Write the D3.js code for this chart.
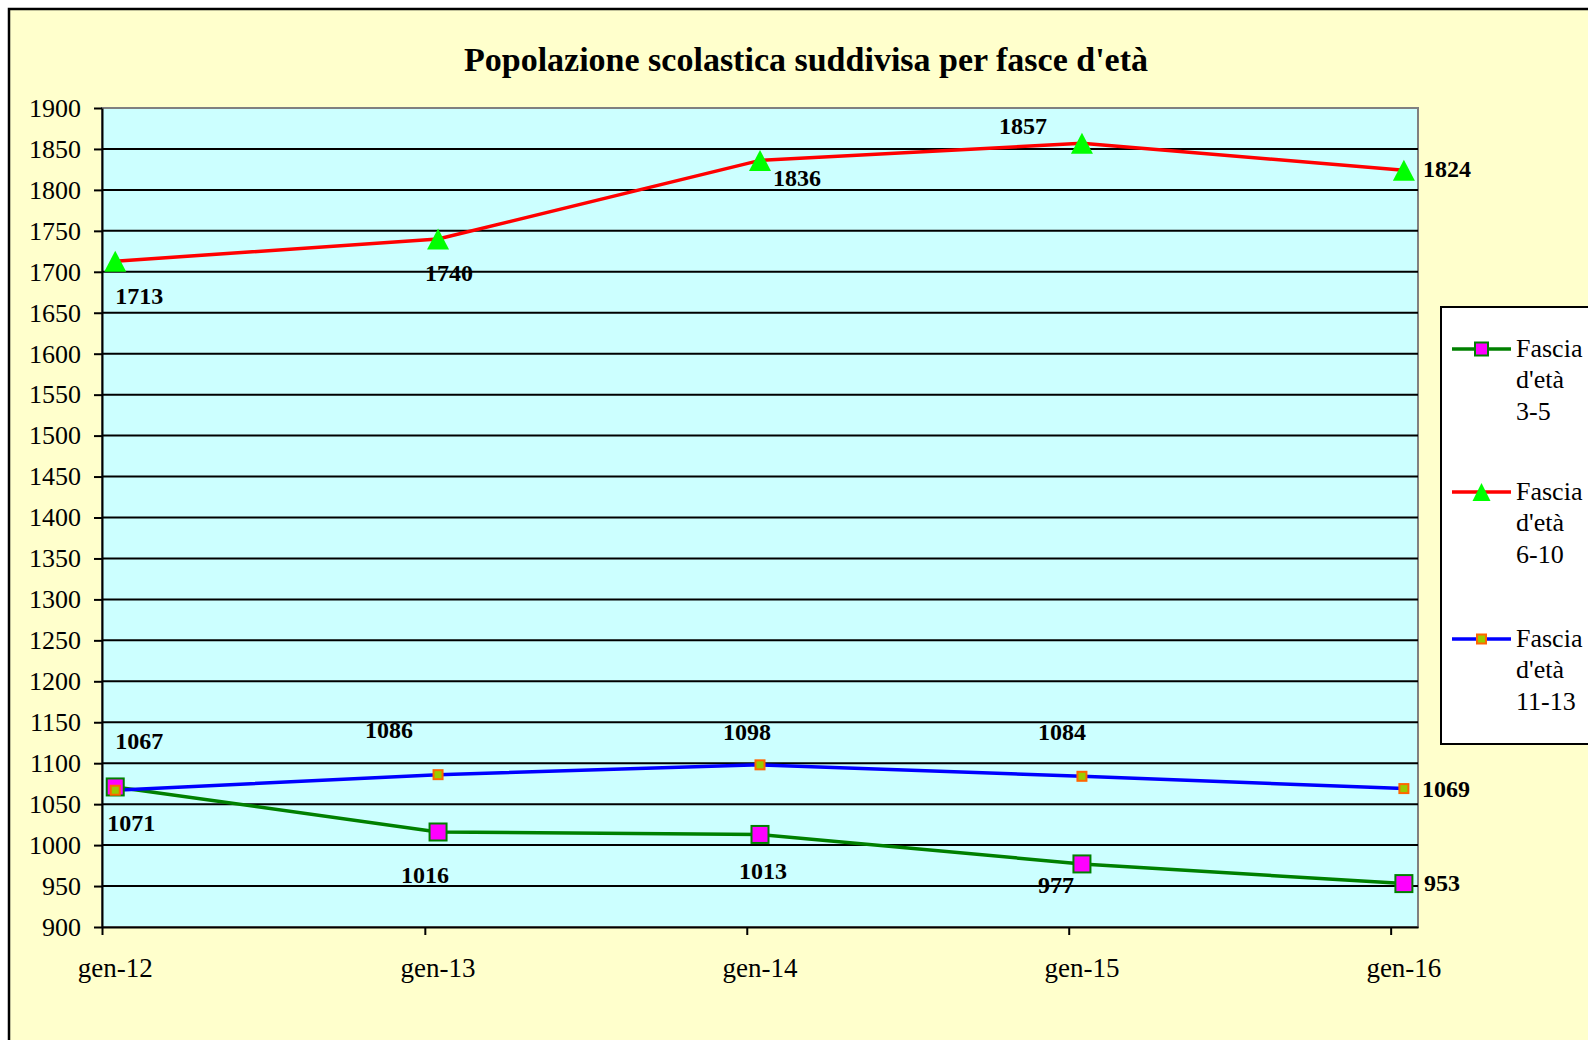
<!DOCTYPE html>
<html>
<head>
<meta charset="utf-8">
<script src="https://cdn.jsdelivr.net/npm/d3@7/dist/d3.min.js"></script>
<style>
  html, body { margin: 0; padding: 0; background: #ffffff; }
  svg { display: block; }
  text { font-family: "Palatino Linotype", "Book Antiqua", Palatino, "Liberation Serif", serif; fill: #000; }
</style>
</head>
<body>
<svg id="chart" width="1588" height="1040"></svg>
<script>
// data
var categories = ['gen-12', 'gen-13', 'gen-14', 'gen-15', 'gen-16'];
var years = [2012, 2013, 2014, 2015, 2016];
var fascia35 = [1071, 1016, 1013, 977, 953];
var fascia610 = [1713, 1740, 1836, 1857, 1824];
var fascia1113 = [1067, 1086, 1098, 1084, 1069];
var yTickValues = [900, 950, 1000, 1050, 1100, 1150, 1200, 1250, 1300, 1350, 1400,
                   1450, 1500, 1550, 1600, 1650, 1700, 1750, 1800, 1850, 1900];
var legendLabels = [
  ['Fascia', "d'età", '3-5'],
  ['Fascia', "d'età", '6-10'],
  ['Fascia', "d'età", '11-13']
];
var title = "Popolazione scolastica suddivisa per fasce d'età";

// where excel dropped each data label (offset from its point)
var labels35 = [[16, 36], [-13, 43], [3, 37], [-26, 21], [20, -1, 'start']];
var labels610 = [[24, 35], [11, 34], [37, 18], [-59, -17], [19, -1, 'start']];
var labels1113 = [[24, -49], [-49, -45], [-13, -33], [-20, -44], [18, 0, 'start']];

var svg = d3.select('#chart');
var W = 1588, H = 1040;
var plot = {left: 102, right: 1418, top: 108, bottom: 927};

// chart area
svg.append('rect')
  .attr('x', 9).attr('y', 9)
  .attr('width', W + 20).attr('height', H + 20)
  .attr('fill', '#ffffcc')
  .attr('stroke', '#000').attr('stroke-width', 2.5);

svg.append('text')
  .attr('x', 806).attr('y', 71)
  .attr('text-anchor', 'middle')
  .style('font-size', '34px')
  .style('font-weight', 'bold')
  .text(title);

// date axis, points sit in the middle of their month slot
var x = d3.scaleTime()
  .domain([new Date(2012, 0, 1), new Date(2016, 1, 1)])
  .range([plot.left, plot.right]);
var y = d3.scaleLinear()
  .domain([900, 1900])
  .range([plot.bottom, plot.top]);

function midDate(yr) { return new Date(yr, 0, 16); }

svg.append('rect')
  .attr('x', plot.left).attr('y', plot.top)
  .attr('width', plot.right - plot.left).attr('height', plot.bottom - plot.top)
  .attr('fill', '#ccffff')
  .attr('stroke', '#808080').attr('stroke-width', 2);

svg.append('g')
  .selectAll('line')
  .data(yTickValues.filter(function(v) { return v > 900 && v < 1900; }))
  .join('line')
  .attr('x1', plot.left).attr('x2', plot.right)
  .attr('y1', function(d) { return y(d); })
  .attr('y2', function(d) { return y(d); })
  .attr('stroke', '#000').attr('stroke-width', 2);

var yAxis = svg.append('g')
  .attr('transform', 'translate(' + plot.left + ',0)')
  .call(d3.axisLeft(y).tickValues(yTickValues).tickFormat(d3.format('d'))
    .tickSize(8).tickSizeOuter(0).tickPadding(13));
yAxis.selectAll('text').style('font-size', '26px').style('font-family', null);
yAxis.selectAll('line, path').attr('stroke', '#000').attr('stroke-width', 2);

var xAxis = svg.append('g')
  .attr('transform', 'translate(0,' + plot.bottom + ')')
  .call(d3.axisBottom(x)
    .tickValues(years.map(function(yr) { return new Date(yr, 0, 1); }))
    .tickSize(8).tickSizeOuter(0).tickFormat(''));
xAxis.selectAll('line, path').attr('stroke', '#000').attr('stroke-width', 2);

svg.append('g')
  .selectAll('text')
  .data(categories)
  .join('text')
  .attr('x', function(d, i) { return x(midDate(years[i])); })
  .attr('y', 977)
  .attr('text-anchor', 'middle')
  .style('font-size', '27px')
  .text(function(d) { return d; });

var series = [
  {values: fascia35, color: '#008000', marker: 'bigsquare', labels: labels35},
  {values: fascia610, color: '#ff0000', marker: 'triangle', labels: labels610},
  {values: fascia1113, color: '#0000ff', marker: 'smallsquare', labels: labels1113}
];

function drawMarker(g, type, cx, cy, legend) {
  if (type == 'bigsquare') {
    var s = legend ? 13 : 17;
    g.append('rect')
      .attr('x', cx - s / 2).attr('y', cy - s / 2)
      .attr('width', s).attr('height', s)
      .attr('fill', '#ff00ff').attr('stroke', '#008000').attr('stroke-width', 2);
  } else if (type == 'smallsquare') {
    var q = 9;
    g.append('rect')
      .attr('x', cx - q / 2).attr('y', cy - q / 2)
      .attr('width', q).attr('height', q)
      .attr('fill', '#99cc00').attr('stroke', '#ff6600').attr('stroke-width', 2);
  } else {
    var w = legend ? 18 : 22, h = legend ? 18 : 21;
    g.append('path')
      .attr('d', 'M' + cx + ',' + (cy - h / 2) + 'L' + (cx + w / 2) + ',' + (cy + h / 2) +
        'L' + (cx - w / 2) + ',' + (cy + h / 2) + 'Z')
      .attr('fill', '#00ff00');
  }
}

var line = d3.line()
  .x(function(d, i) { return x(midDate(years[i])); })
  .y(function(d) { return y(d); });

series.forEach(function(s) {
  svg.append('path')
    .datum(s.values)
    .attr('d', line)
    .attr('fill', 'none')
    .attr('stroke', s.color)
    .attr('stroke-width', 3.5)
    .attr('stroke-linejoin', 'round');
});

series.forEach(function(s) {
  var g = svg.append('g');
  s.values.forEach(function(v, i) {
    drawMarker(g, s.marker, x(midDate(years[i])), y(v), false);
  });
});

series.forEach(function(s) {
  svg.append('g')
    .selectAll('text')
    .data(s.values)
    .join('text')
    .attr('x', function(d, i) { return x(midDate(years[i])) + s.labels[i][0]; })
    .attr('y', function(d, i) { return y(d) + s.labels[i][1] + 8; })
    .attr('text-anchor', function(d, i) { return s.labels[i][2] || 'middle'; })
    .style('font-size', '24px')
    .style('font-weight', 'bold')
    .text(function(d) { return d; });
});

// legend, runs off the right edge like in the original
var legend = svg.append('g');
legend.append('rect')
  .attr('x', 1441).attr('y', 307)
  .attr('width', 200).attr('height', 437)
  .attr('fill', '#ffffff')
  .attr('stroke', '#000').attr('stroke-width', 2);

var legendY = [349, 492, 639];
series.forEach(function(s, i) {
  var ly = legendY[i];
  legend.append('line')
    .attr('x1', 1452).attr('x2', 1511)
    .attr('y1', ly).attr('y2', ly)
    .attr('stroke', s.color).attr('stroke-width', 3.5);
  drawMarker(legend, s.marker, 1481.5, ly, true);
  legend.append('text')
    .attr('x', 1516).attr('y', ly + 8)
    .style('font-size', '26px')
    .selectAll('tspan')
    .data(legendLabels[i])
    .join('tspan')
    .attr('x', 1516)
    .attr('dy', function(d, j) { return j == 0 ? 0 : 31.3; })
    .text(function(d) { return d; });
});
</script>
</body>
</html>
